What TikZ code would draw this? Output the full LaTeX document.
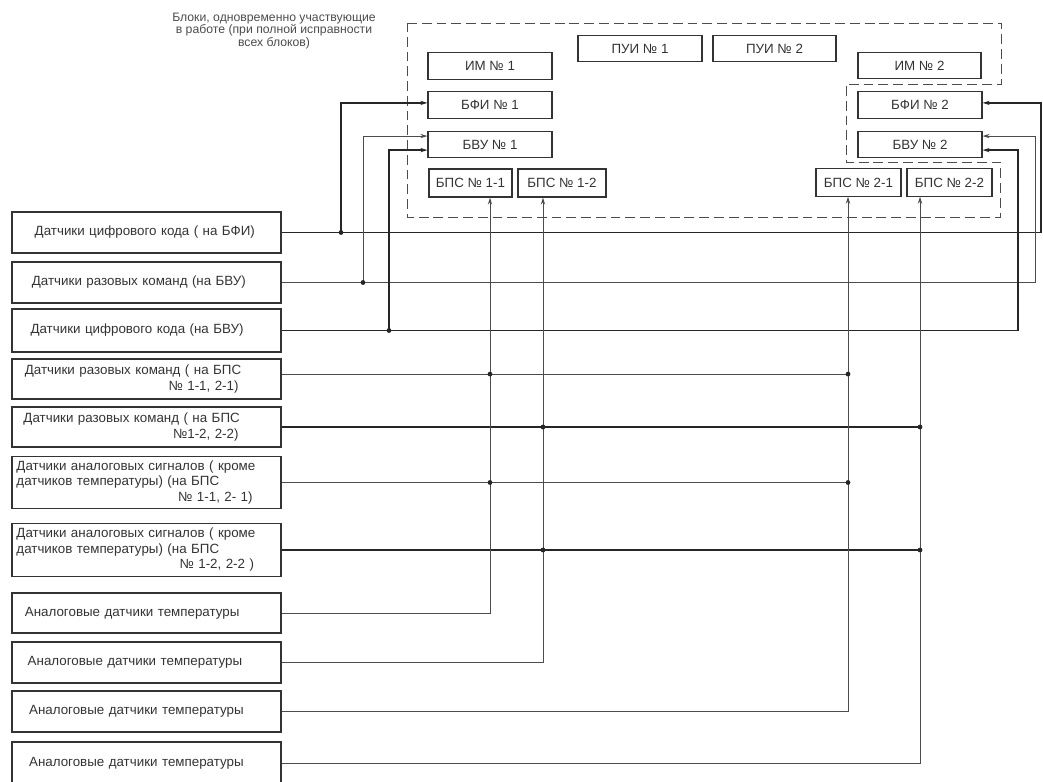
\documentclass[tikz,border=0pt]{standalone}
\usepackage{fontspec}
\setmainfont{Liberation Sans}
\usetikzlibrary{arrows.meta, positioning}

\begin{document}
\begin{tikzpicture}[
  x=0.025cm, y=-0.025cm,
  every node/.style={font=\fontsize{9.5}{11}\selectfont, text=black!80},
  blk/.style={rectangle, draw=black!80, line width=0.8pt, inner sep=1pt, minimum height=0.66cm},
  sensor/.style={rectangle, draw=black!80, line width=0.8pt, minimum width=6.725cm, text width=6.5cm, inner xsep=2pt, align=left},
  wire/.style={draw=black!70, line width=0.6pt},
  bus/.style={draw=black!85, line width=0.9pt},
  feed/.style={-{Stealth[length=5pt, width=3pt]}},
  jdot/.style={circle, fill=black!85, inner sep=0pt, minimum size=3.4pt},
]
\useasboundingbox (0,0) rectangle (1043,781);

% caption and group outline
\node[align=center, font=\fontsize{8.7}{8.6}\selectfont, text=black!70] (title) at (274,31) {Блоки, одновременно участвующие\\в работе (при полной исправности\\всех блоков)};
\draw[black!70, line width=0.7pt, dash pattern=on 7pt off 3.5pt] (407,23) -- (1001,23) -- (1001,84) -- (846,84) -- (846,162) -- (1000,162) -- (1000,217) -- (407,217) -- cycle;

% blocks
\node[blk, minimum width=3.1cm] (im1) at (490,66) {ИМ № 1};
\node[blk, minimum width=3.1cm] (bfi1) at (490,105) {БФИ № 1};
\node[blk, minimum width=3.1cm] (bvu1) at (490,144.5) {БВУ № 1};
\node[blk, minimum width=2.075cm, minimum height=0.7cm] (bps11) at (470.5,183) {БПС № 1-1};
\node[blk, minimum width=2.2cm, minimum height=0.7cm] (bps12) at (562,183) {БПС № 1-2};
\node[blk, minimum width=3.1cm] (pui1) at (640,48.5) {ПУИ № 1};
\node[blk, minimum width=3.075cm] (pui2) at (774.5,48.5) {ПУИ № 2};
\node[blk, minimum width=3.075cm] (im2) at (919.5,65.5) {ИМ № 2};
\node[blk, minimum width=3.1cm] (bfi2) at (920,105) {БФИ № 2};
\node[blk, minimum width=3.1cm] (bvu2) at (920,144.5) {БВУ № 2};
\node[blk, minimum width=2.125cm, minimum height=0.68cm] (bps21) at (858.5,182.5) {БПС № 2-1};
\node[blk, minimum width=2.125cm, minimum height=0.68cm] (bps22) at (949.5,182.5) {БПС № 2-2};

% sensors
\node[sensor, minimum height=1.025cm] (s1) at (146.5,232.5) {\hspace*{13pt}Датчики цифрового кода ( на БФИ)};
\node[sensor, minimum height=1.025cm] (s2) at (146.5,282.5) {\hspace*{11pt}Датчики разовых команд (на БВУ)};
\node[sensor, minimum height=1.075cm] (s3) at (146.5,330.5) {\hspace*{10pt}Датчики цифрового кода (на БВУ)};
\node[sensor, minimum height=1.0cm] (s4) at (146.5,379) {\hspace*{6pt}Датчики разовых команд ( на БПС\\\hspace*{\fill}№ 1-1, 2-1)\hspace*{27pt}};
\node[sensor, minimum height=1.0cm] (s5) at (146.5,427) {\hspace*{5pt}Датчики разовых команд ( на БПС\\\hspace*{\fill}№1-2, 2-2)\hspace*{27pt}};
\node[sensor, minimum height=1.275cm] (s6) at (146.5,482.5) {Датчики аналоговых сигналов ( кроме\\датчиков температуры) (на БПС\\\hspace*{\fill}№ 1-1, 2- 1)\hspace*{17pt}};
\node[sensor, minimum height=1.3cm] (s7) at (146.5,550) {Датчики аналоговых сигналов ( кроме\\датчиков температуры) (на БПС\\\hspace*{\fill}№ 1-2, 2-2 )\hspace*{16pt}};
\node[sensor, minimum height=1.0cm] (s8) at (146.5,613) {\hspace*{6pt}Аналоговые датчики температуры};
\node[sensor, minimum height=1.025cm] (s9) at (146.5,662.5) {\hspace*{8pt}Аналоговые датчики температуры};
\node[sensor, minimum height=1.025cm] (s10) at (146.5,711.5) {\hspace*{9pt}Аналоговые датчики температуры};
\node[sensor, minimum height=1.05cm] (s11) at (146.5,763) {\hspace*{9pt}Аналоговые датчики температуры};

% wiring columns
\coordinate (cf1) at (341,0);
\coordinate (cv1a) at (363,0);
\coordinate (cv1b) at (389,0);
\coordinate (p11) at (490,0);
\coordinate (p12) at (543,0);
\coordinate (p21) at (848,0);
\coordinate (p22) at (920,0);
\coordinate (cv2b) at (1018,0);
\coordinate (cv2a) at (1035,0);
\coordinate (cf2) at (1041,0);

% to БФИ and БВУ
\draw[bus, feed] (s1.east) -- (s1.east -| cf2) |- ([yshift=1.5pt]bfi2.east);
\draw[bus, feed] (s1.east -| cf1) |- ([yshift=1.5pt]bfi1.west);
\draw[wire, feed] (s2.east) -- (s2.east -| cv2a) |- ([yshift=6pt]bvu2.east);
\draw[wire, feed] (s2.east -| cv1a) |- ([yshift=6pt]bvu1.west);
\draw[bus, feed] (s3.east) -- (s3.east -| cv2b) |- ([yshift=-4pt]bvu2.east);
\draw[bus, feed] (s3.east -| cv1b) |- ([yshift=-4pt]bvu1.west);

% to БПС
\draw[wire] ([yshift=3.5pt]s4.east) -- ([yshift=3.5pt]s4.east -| p21);
\draw[bus] (s5.east) -- (s5.east -| p22);
\draw[wire] (s6.east) -- (s6.east -| p21);
\draw[bus] (s7.east) -- (s7.east -| p22);
\draw[wire, feed] (s8.east) -| (bps11.south -| p11);
\draw[wire, feed] (s9.east) -| (bps12.south -| p12);
\draw[wire, feed] (s10.east) -| (bps21.south -| p21);
\draw[wire, feed] (s11.east) -| (bps22.south -| p22);

% junctions
\node[jdot] (j1) at (s1.east -| cf1) {};
\node[jdot] (j2) at (s2.east -| cv1a) {};
\node[jdot] (j3) at (s3.east -| cv1b) {};
\node[jdot] (j4a) at ([yshift=3.5pt]s4.east -| p11) {};
\node[jdot] (j4b) at ([yshift=3.5pt]s4.east -| p21) {};
\node[jdot] (j5a) at (s5.east -| p12) {};
\node[jdot] (j5b) at (s5.east -| p22) {};
\node[jdot] (j6a) at (s6.east -| p11) {};
\node[jdot] (j6b) at (s6.east -| p21) {};
\node[jdot] (j7a) at (s7.east -| p12) {};
\node[jdot] (j7b) at (s7.east -| p22) {};
\end{tikzpicture}
\end{document}
